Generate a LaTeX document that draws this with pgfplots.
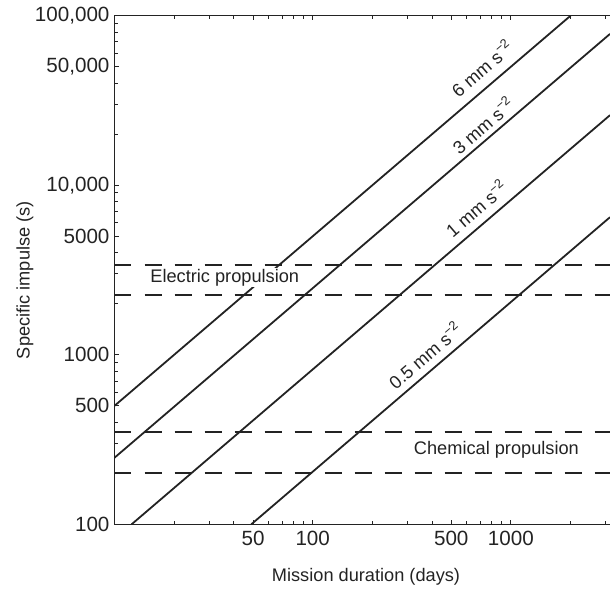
\documentclass[border=0pt]{standalone}
\usepackage{fontspec}
\setmainfont{Liberation Sans}
\usepackage{pgfplots}
\pgfplotsset{compat=1.18}
\definecolor{ink}{RGB}{35,35,35}
\begin{document}
\begin{tikzpicture}
\begin{axis}[
  xmode=log, ymode=log,
  scale only axis, width=247.75pt, height=254.3pt,
  xmin=10, xmax=3162.28, ymin=100, ymax=100000,
  axis x line*=box, axis y line*=left,
  axis line style={line width=0.6pt, ink},
  xtick={10,100,1000,10000}, xticklabels={,100,1000,},
  extra x ticks={50,500}, extra x tick labels={50,500},
  ytick={100,1000,10000,100000}, yticklabels={100,1000,{10,000},{100,000}},
  extra y ticks={500,5000,50000}, extra y tick labels={500,5000,{50,000}},
  ticklabel style={font=\fontsize{10.3}{12}\selectfont, ink},
  yticklabel style={xshift=1pt},
  /pgf/number format/assume math mode=true,
  tick align=inside, major tick length=2.2pt, minor tick length=1.6pt,
  tick style={ink, line width=0.5pt},
  xlabel={Mission duration (days)}, ylabel={Specific impulse (s)},
  label style={font=\fontsize{9.1}{11}\selectfont, ink},
  xlabel style={at={(axis description cs:0.5076,-0.103)}, anchor=center},
  ylabel style={at={(axis description cs:-0.1806,0.48)}, anchor=center},
  clip=true,
]
% constant-acceleration lines
\addplot[line width=0.9pt, ink] coordinates {(10,500) (2000,100000)};
\addplot[line width=0.9pt, ink] coordinates {(10,247) (3162.28,78100)};
\addplot[line width=0.9pt, ink] coordinates {(12.2,100) (3162.28,25900)};
\addplot[line width=0.9pt, ink] coordinates {(49,100) (3162.28,6480)};
% propulsion bands
\addplot[line width=0.9pt, ink, dash pattern=on 8.5pt off 6.5pt] coordinates {(10,3400) (3162.28,3400)};
\addplot[line width=0.9pt, ink, dash pattern=on 8.5pt off 6.5pt] coordinates {(10,2250) (3162.28,2250)};
\addplot[line width=0.9pt, ink, dash pattern=on 8.5pt off 6.5pt] coordinates {(10,350) (3162.28,350)};
\addplot[line width=0.9pt, ink, dash pattern=on 8.5pt off 6.5pt] coordinates {(10,200) (3162.28,200)};
% labels
\node[font=\fontsize{9.1}{11}\selectfont, text=ink, rotate=40.6] at (axis cs:714,49200) {6 mm s\textsuperscript{−2}};
\node[font=\fontsize{9.1}{11}\selectfont, text=ink, rotate=40.6] at (axis cs:722,22700) {3 mm s\textsuperscript{−2}};
\node[font=\fontsize{9.1}{11}\selectfont, text=ink, rotate=40.6] at (axis cs:668,7345) {1 mm s\textsuperscript{−2}};
\node[font=\fontsize{9.1}{11}\selectfont, text=ink, rotate=40.6] at (axis cs:368,998) {0.5 mm s\textsuperscript{−2}};
\node[font=\fontsize{9.1}{11}\selectfont, text=ink, fill=white, inner xsep=1pt, inner ysep=0.5pt] at (axis cs:36,2839) {Electric propulsion};
\node[font=\fontsize{9.1}{11}\selectfont, text=ink] at (axis cs:845,274) {Chemical propulsion};
\end{axis}
\pgfresetboundingbox
\path (-57.25pt,-32.85pt) rectangle (247.75pt,262.15pt);
\end{tikzpicture}
\end{document}
